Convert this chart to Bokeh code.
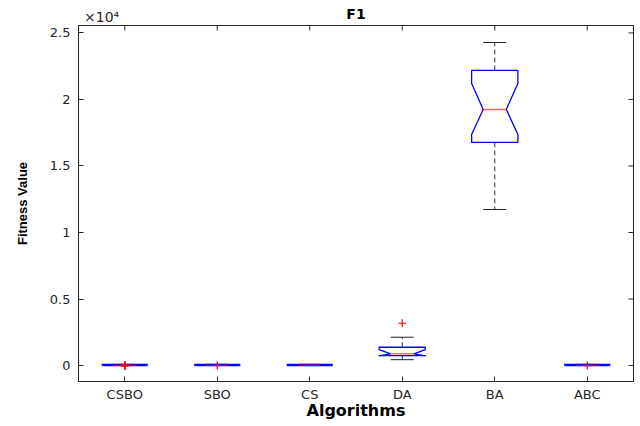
from bokeh.plotting import figure
from bokeh.models import FixedTicker, LinearAxis, Range1d
from bokeh.embed import file_html
from bokeh.resources import INLINE

# ---- data ----
algorithms = ["CSBO", "SBO", "CS", "DA", "BA", "ABC"]
q1 = [0, 0, 0, 752, 16770, 0]
median = [30, 30, 30, 880, 19250, 30]
q3 = [90, 90, 90, 1376, 22180, 90]
whisker_lo = [0, 0, 0, 440, 11730, 0]
whisker_hi = [90, 90, 90, 2128, 24280, 90]
notch_lo = [0, 0, 0, 720, 17370, 0]
notch_hi = [90, 90, 90, 1200, 21200, 90]
outliers = [[-30, -15, 0, 15, 30], [0], [], [3180], [], [0]]
y_ticks = [0, 5000, 10000, 15000, 20000, 25000]
y_tick_labels = ["0", "0.5", "1", "1.5", "2", "2.5"]
exponent_text = "×10⁴"
title_text = "F1"

AX = "#262626"
TICK_FONT = "DejaVu Sans"

xpos = list(range(1, len(algorithms) + 1))
w = 0.25      # box half width
nw = 0.125    # notch half width
cw = 0.125    # cap half width

FW, FH = 555, 356
X0, X1 = 0.5, 6.5
Y0, Y1 = -1200, 25560
EXP_X = 0.75   # where the exponent text is centred along the top edge

p = figure(frame_width=FW, frame_height=FH,
           min_border_left=78, min_border_right=7,
           min_border_top=25, min_border_bottom=45,
           x_range=Range1d(X0, X1), y_range=Range1d(Y0, Y1),
           output_backend="svg", toolbar_location=None,
           background_fill_color="white", border_fill_color="white")

p.xgrid.grid_line_color = None
p.ygrid.grid_line_color = None
p.outline_line_color = AX

# inward tick marks on the top and right edges (5 px long)
tick_dx = (X1 - X0) / FW * 5
tick_dy = (Y1 - Y0) / FH * 5
p.segment([X1] * len(y_ticks), y_ticks, [X1 - tick_dx] * len(y_ticks), y_ticks,
          line_color=AX, line_width=1)
p.segment(xpos, [Y1] * len(xpos), xpos, [Y1 - tick_dy] * len(xpos),
          line_color=AX, line_width=1)

# whiskers
wx0, wy0, wx1, wy1 = [], [], [], []
for i, x in enumerate(xpos):
    wx0 += [x, x]; wx1 += [x, x]
    wy0 += [q3[i], q1[i]]; wy1 += [whisker_hi[i], whisker_lo[i]]
p.segment(wx0, wy0, wx1, wy1, line_color="#333333", line_width=1,
          line_dash="5 3")

# caps
cx0, cy0, cx1, cy1 = [], [], [], []
for i, x in enumerate(xpos):
    for v in (whisker_hi[i], whisker_lo[i]):
        cx0.append(x - cw); cx1.append(x + cw); cy0.append(v); cy1.append(v)
p.segment(cx0, cy0, cx1, cy1, line_color="#222222", line_width=1)

# notched boxes
bxs, bys = [], []
for i, x in enumerate(xpos):
    bxs.append([x - w, x - w, x - nw, x - w, x - w,
                x + w, x + w, x + nw, x + w, x + w])
    bys.append([q1[i], notch_lo[i], median[i], notch_hi[i], q3[i],
                q3[i], notch_hi[i], median[i], notch_lo[i], q1[i]])
p.patches(bxs, bys, fill_color=None, line_color="#0000FF", line_width=1.3)

# medians
p.segment([x - nw for x in xpos], median, [x + nw for x in xpos], median,
          line_color="#FF0000", line_width=1.5, line_alpha=0.6)

# outliers
ox, oy = [], []
for i, x in enumerate(xpos):
    for v in outliers[i]:
        ox.append(x); oy.append(v)
p.scatter(ox, oy, marker="cross", size=8, line_color="#FF0000",
          line_width=1.2)

# axes
p.xaxis.ticker = FixedTicker(ticks=xpos)
p.xaxis.major_label_overrides = {x: n for x, n in zip(xpos, algorithms)}
p.yaxis.ticker = FixedTicker(ticks=y_ticks)
p.yaxis.major_label_overrides = {t: l for t, l in zip(y_ticks, y_tick_labels)}

for ax in (p.xaxis[0], p.yaxis[0]):
    ax.axis_line_color = AX
    ax.major_tick_line_color = AX
    ax.major_tick_in = 5
    ax.major_tick_out = 0
    ax.minor_tick_line_color = None
    ax.major_label_text_font = TICK_FONT
    ax.major_label_text_font_size = "13px"
    ax.major_label_text_color = AX

p.xaxis.major_label_standoff = 5
p.yaxis.major_label_standoff = 8

p.xaxis.axis_label = "Algorithms"
p.xaxis.axis_label_text_font = "DejaVu Sans"
p.xaxis.axis_label_text_font_size = "16px"
p.xaxis.axis_label_text_font_style = "bold"
p.xaxis.axis_label_text_color = "black"
p.xaxis.axis_label_standoff = -4

p.yaxis.axis_label = "Fitness Value"
p.yaxis.axis_label_text_font = "Liberation Sans"
p.yaxis.axis_label_text_font_size = "13px"
p.yaxis.axis_label_text_font_style = "bold"
p.yaxis.axis_label_text_color = "black"
p.yaxis.axis_label_standoff = 17

# top axis: carries the exponent (as a tick label) and the title (as its label)
top = LinearAxis(ticker=FixedTicker(ticks=[EXP_X]),
                 major_label_overrides={EXP_X: exponent_text},
                 major_label_text_font=TICK_FONT,
                 major_label_text_font_size="14px",
                 major_label_text_color=AX,
                 major_label_standoff=-5,
                 major_tick_line_color=None, minor_tick_line_color=None,
                 axis_line_color=AX,
                 axis_label=title_text,
                 axis_label_text_font="DejaVu Sans",
                 axis_label_text_font_size="14px",
                 axis_label_text_font_style="bold",
                 axis_label_text_color="black",
                 axis_label_standoff=-16)
p.add_layout(top, "above")

open("out.html", "w").write(file_html(p, INLINE))
